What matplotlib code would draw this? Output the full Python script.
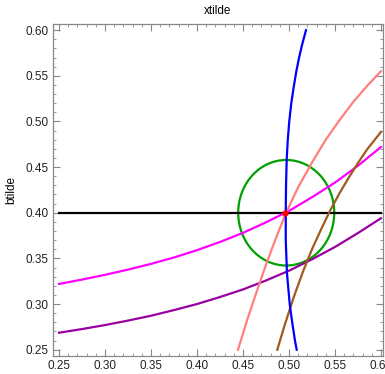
import matplotlib
matplotlib.use("Agg")
import matplotlib.pyplot as plt
from matplotlib.patches import Ellipse
from matplotlib.ticker import MultipleLocator

plt.rcParams['font.family'] = ['Liberation Sans', 'DejaVu Sans']

# curve samples
blueY = [0.25, 0.26, 0.28, 0.30, 0.334, 0.37, 0.40, 0.43, 0.458, 0.48, 0.50, 0.52, 0.538, 0.555, 0.57, 0.585, 0.60]
blueX = [0.5084, 0.5065, 0.5035, 0.5008, 0.4978, 0.4965, 0.4965, 0.4968, 0.4975, 0.4987, 0.5003, 0.5025, 0.5052, 0.508, 0.511, 0.5145, 0.5185]

pinkX = [0.4446, 0.455, 0.465, 0.475, 0.485, 0.496, 0.51, 0.525, 0.54, 0.555, 0.57, 0.585, 0.60]
pinkY = [0.25, 0.284, 0.314, 0.343, 0.370, 0.398, 0.428, 0.455, 0.480, 0.5015, 0.5215, 0.539, 0.555]

brownX = [0.4873, 0.495, 0.505, 0.515, 0.525, 0.535, 0.545, 0.555, 0.565, 0.575, 0.585, 0.60]
brownY = [0.25, 0.276, 0.307, 0.335, 0.360, 0.382, 0.403, 0.4215, 0.4385, 0.4545, 0.4695, 0.4885]

magentaX = [0.25, 0.275, 0.30, 0.325, 0.35, 0.375, 0.40, 0.425, 0.45, 0.475, 0.50, 0.525, 0.55, 0.575, 0.60]
magentaY = [0.322, 0.3268, 0.332, 0.3377, 0.344, 0.351, 0.359, 0.368, 0.378, 0.3895, 0.402, 0.417, 0.433, 0.4515, 0.472]

purpleX = [0.25, 0.275, 0.30, 0.325, 0.35, 0.375, 0.40, 0.425, 0.45, 0.475, 0.50, 0.525, 0.55, 0.575, 0.60]
purpleY = [0.2686, 0.2726, 0.2770, 0.2819, 0.2872, 0.2934, 0.3000, 0.3077, 0.3160, 0.3258, 0.3365, 0.349, 0.3625, 0.3778, 0.394]

blackX = [0.25, 0.60]
blackY = [0.40, 0.40]

ellCenter = (0.497, 0.40)
ellRx = 0.0522
ellRy = 0.0578

pointX = [0.496]
pointY = [0.40]

fig = plt.figure(figsize=(3.85, 3.74), dpi=100)
ax = fig.add_axes([0.1377, 0.0481, 0.8571, 0.8877])

lw = 1.6
ax.plot(blackX, blackY, color="#000000", lw=lw)
ax.plot(magentaX, magentaY, color="#FF00FF", lw=lw)
ax.plot(purpleX, purpleY, color="#9900A0", lw=lw)
ax.plot(pinkX, pinkY, color="#FF7F7F", lw=lw)
ax.plot(brownX, brownY, color="#A05A1E", lw=lw)
ax.plot(blueX, blueY, color="#0000FF", lw=lw)
ax.add_patch(Ellipse(ellCenter, 2 * ellRx, 2 * ellRy, fill=False, edgecolor="#00A000", lw=lw))
ax.plot(pointX, pointY, "o", color="#FF0000", ms=3.5)

ax.set_xlim(0.2435, 0.6022)
ax.set_ylim(0.2431, 0.6067)
ax.set_xticks([0.25, 0.30, 0.35, 0.40, 0.45, 0.50, 0.55, 0.60])
ax.set_yticks([0.25, 0.30, 0.35, 0.40, 0.45, 0.50, 0.55, 0.60])
ax.xaxis.set_minor_locator(MultipleLocator(0.01))
ax.yaxis.set_minor_locator(MultipleLocator(0.01))
ax.tick_params(which="both", direction="in", top=True, right=True, color="#888888", labelsize=8.5, labelcolor="#222222")
ax.tick_params(which="major", length=5, width=0.8, pad=3)
ax.tick_params(which="minor", length=2.5, width=0.6)
for s in ax.spines.values():
    s.set_color("#888888")
    s.set_linewidth(0.9)

ax.set_title("xtilde", fontsize=8.5, pad=7)
ax.set_ylabel("btilde", fontsize=8.5, labelpad=6)

fig.savefig("out.png", dpi=100)
